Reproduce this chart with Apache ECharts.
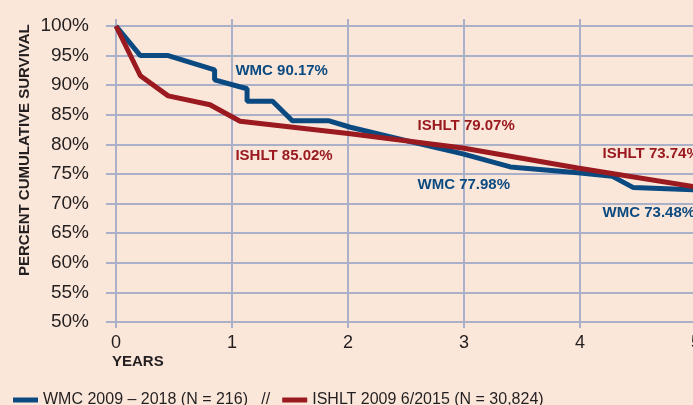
<!DOCTYPE html>
<html>
<head>
<meta charset="utf-8">
<style>
  html, body { margin: 0; padding: 0; background: #fbe7da; }
  #chart { width: 693px; height: 405px; }
</style>
<script src="https://cdn.jsdelivr.net/npm/echarts@6/dist/echarts.min.js"></script>
</head>
<body>
<div id="chart"></div>
<script>
// survival curves: [years, percent]
const wmcPoints = [
  [0, 100], [0.21, 95], [0.45, 95], [0.85, 92.6], [0.85, 90.9],
  [1.13, 89.4], [1.13, 87.3], [1.35, 87.3], [1.52, 84.0], [1.83, 84.0],
  [2.02, 82.9], [2.62, 80.1], [2.99, 78.4], [3.40, 76.2], [3.98, 75.2],
  [4.28, 74.6], [4.46, 72.7], [5.0, 72.3]
];
const ishltPoints = [
  [0, 100], [0.21, 91.6], [0.45, 88.2], [0.81, 86.7], [1.07, 83.9],
  [2.02, 81.8], [2.99, 79.4], [3.98, 76.0], [5.0, 72.8]
];
const wmcName = "WMC 2009 – 2018 (N = 216)";
const ishltName = "ISHLT 2009 6/2015 (N = 30,824)";
const yearTicks = [0, 1, 2, 3, 4, 5];
const pctMin = 50, pctMax = 100, pctStep = 5;

// callout labels: [text, year, percent, series]
const callouts = [
  ["WMC 90.17%", 1.025, 92.5, "wmc"],
  ["ISHLT 85.02%", 1.025, 78.0, "ishlt"],
  ["ISHLT 79.07%", 2.595, 83.2, "ishlt"],
  ["WMC 77.98%", 2.595, 73.2, "wmc"],
  ["ISHLT 73.74%", 4.19, 78.4, "ishlt"],
  ["WMC 73.48%", 4.19, 68.4, "wmc"]
];

const BLUE = "#0b4a80";
const RED = "#9a1a20";
const GRID = "#aab0c8";
const INK = "#231f20";
const FONT = "Liberation Sans";

const chart = echarts.init(document.getElementById("chart"));

const labelSeries = {
  type: "scatter",
  symbolSize: 1,
  silent: true,
  z: 5,
  itemStyle: { opacity: 0 },
  data: callouts.map(c => ({
    value: [c[1], c[2]],
    label: {
      show: true,
      position: "right",
      distance: 0,
      opacity: 1,
      formatter: c[0],
      color: c[3] === "wmc" ? BLUE : RED,
      fontFamily: FONT,
      fontWeight: 700,
      fontSize: 15
    }
  }))
};

chart.setOption({
  backgroundColor: "#fbe7da",
  animation: false,
  grid: {
    left: 116, right: -3, top: 26, bottom: 83,
    containLabel: false,
    outerBoundsMode: "none"
  },
  legend: {
    left: 8,
    top: 387,
    itemWidth: 25,
    itemHeight: 5,
    itemGap: 12,
    icon: "rect",
    data: [wmcName, ishltName],
    formatter: function (name) {
      return name === wmcName ? name + "   //" : name;
    },
    textStyle: { color: INK, fontFamily: FONT, fontSize: 16 }
  },
  graphic: [
    {
      type: "text",
      left: 112,
      top: 354,
      style: { text: "YEARS", fill: INK, font: "bold 15px " + FONT }
    },
    {
      type: "text",
      x: 17,
      y: 276,
      rotation: Math.PI / 2,
      style: {
        text: "PERCENT CUMULATIVE SURVIVAL",
        fill: INK,
        font: "bold 15px " + FONT
      }
    }
  ],
  xAxis: [
    {
      type: "value",
      min: yearTicks[0],
      max: yearTicks[yearTicks.length - 1],
      interval: 1,
      axisLine: { show: false },
      axisTick: { show: true, inside: false, length: 6, lineStyle: { color: GRID, width: 2 } },
      axisLabel: { color: INK, fontFamily: FONT, fontSize: 18, margin: 12, hideOverlap: false },
      splitLine: { show: true, lineStyle: { color: GRID, width: 2 } }
    },
    {
      type: "value",
      position: "top",
      min: yearTicks[0],
      max: yearTicks[yearTicks.length - 1],
      interval: 1,
      axisLine: { show: false },
      axisTick: { show: true, inside: false, length: 7, lineStyle: { color: GRID, width: 2 } },
      axisLabel: { show: false },
      splitLine: { show: false }
    }
  ],
  yAxis: {
    type: "value",
    min: pctMin,
    max: pctMax,
    interval: pctStep,
    axisLine: { show: false },
    axisTick: { show: true, inside: false, length: 10, lineStyle: { color: GRID, width: 2 } },
    axisLabel: {
      color: INK,
      fontFamily: FONT,
      fontSize: 19,
      margin: 27,
      formatter: "{value}%"
    },
    splitLine: { show: true, lineStyle: { color: GRID, width: 2 } }
  },
  series: [
    {
      name: wmcName,
      type: "line",
      data: wmcPoints,
      symbol: "none",
      lineStyle: { color: BLUE, width: 5 },
      itemStyle: { color: BLUE },
      z: 3
    },
    {
      name: ishltName,
      type: "line",
      data: ishltPoints,
      symbol: "none",
      lineStyle: { color: RED, width: 5 },
      itemStyle: { color: RED },
      z: 4
    },
    labelSeries
  ]
});
</script>
</body>
</html>
